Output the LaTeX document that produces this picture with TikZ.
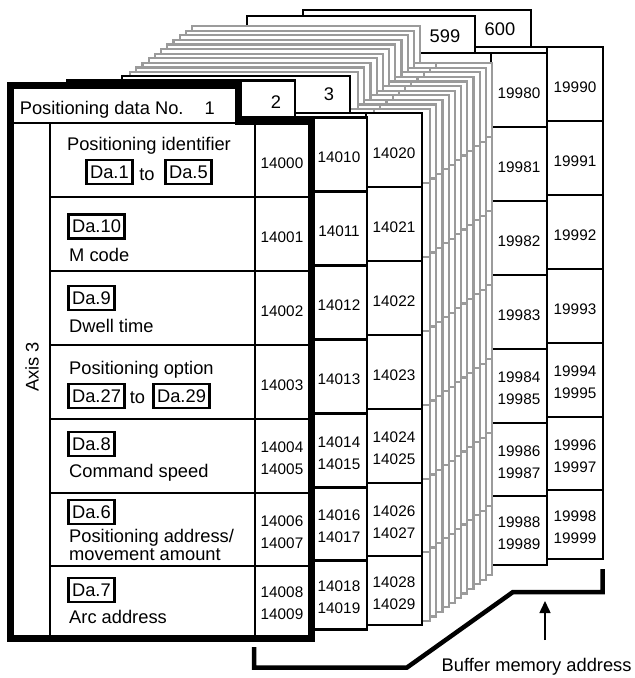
\documentclass[tikz,border=0pt]{standalone}
\usepackage{fontspec}
\setmainfont{Liberation Sans}
\usetikzlibrary{arrows.meta}
\definecolor{pggray}{RGB}{155,155,155}
\newcommand\fmain{\fontsize{18.3}{19}\selectfont}
\newcommand\faddr{\fontsize{15.3}{16}\selectfont}
% one page of the stack: left, top, line style
\newcommand\drawpg[3]{%
  \pgfmathsetmacro\pL{#1}%
  \pgfmathsetmacro\pT{#2}%
  \pgfmathsetmacro\pC{#2+37}%
  \filldraw[fill=white,#3] (\pL,\pT) -- (\pL+228,\pT) -- (\pL+228,\pC) -- (\pL+300,\pC) -- (\pL+300,\pC+512) -- (\pL,\pC+512) -- cycle;
  \draw[#3] (\pL,\pC) -- (\pL+300,\pC);
  \draw[#3] (\pL+244,\pC) -- (\pL+244,\pC+512);
  \foreach \o in {74,148,222,296,370,443} {\draw[#3] (\pL+244,\pC+\o) -- (\pL+300,\pC+\o);}
}
% address numbers of one page: x, column top, first address
\newcommand\addrs[3]{%
  \foreach \i/\c in {0/37,1/111,2/185,3/259} {%
    \edef\nn{\the\numexpr#3+\i\relax}%
    \node[addr] (a\nn) at (#1,#2+\c+8) {\nn};%
  }%
  \foreach \i/\c in {4/333,5/406.5,6/477.5} {%
    \edef\na{\the\numexpr#3+2*\i-4\relax}%
    \edef\nb{\the\numexpr#3+2*\i-3\relax}%
    \node[addr] (a\na) at (#1,#2+\c-3.5) {\na};%
    \node[addr] (a\nb) at (#1,#2+\c+18.5) {\nb};%
  }%
}
\begin{document}
\begin{tikzpicture}[x=1pt,y=-1pt,line join=miter,
  pgline/.style={draw=black,line width=2.5pt},
  grayln/.style={draw=pggray,line width=2.2pt},
  thinln/.style={draw=black,line width=2.6pt},
  txt/.style={font=\fmain,inner sep=0pt},
  addr/.style={font=\faddr,inner sep=0pt,anchor=base},
  dabox/.style={draw,line width=2.6pt,font=\fmain,inner xsep=3.5pt,inner ysep=5.5pt,text height=12.9pt,text depth=0pt,anchor=west}]
\useasboundingbox (0,0) rectangle (635,678);

% page 600
\drawpg{303}{10}{pgline}
\node[txt,anchor=base] (tab600) at (500,35) {600};
\addrs{575}{47}{19990}
% page 599
\drawpg{247}{16}{pgline}
\node[txt,anchor=base] (tab599) at (445,42) {599};
\addrs{519}{53}{19980}
% pages 4 ... 598 (gray stack)
\foreach \k in {10,9,...,0} {\drawpg{130+6.2*\k}{72-4.6*\k}{grayln}}
% page 3
\drawpg{122}{76}{pgline}
\node[txt,anchor=base] (tab3) at (329,100) {3};
\addrs{394}{113}{14020}
% page 2
\drawpg{67}{80.5}{pgline}
\node[txt,anchor=base] (tab2) at (276,108) {2};
\addrs{339}{117.5}{14010}

% page 1 (front, thick frame)
\fill[white] (10.5,85) -- (238.5,85) -- (238.5,121) -- (311.5,121) -- (311.5,638) -- (10.5,638) -- cycle;
\draw[thinln] (14,123) -- (238.5,123);
\draw[thinln] (50,123) -- (50,638);
\draw[thinln] (255,121) -- (255,638);
\foreach \o in {74,148,222,296,370,443} {\draw[thinln] (50,123+\o) -- (311.5,123+\o);}
\draw[line width=7pt] (10.5,85) -- (238.5,85) -- (238.5,121) -- (311.5,121) -- (311.5,638) -- (10.5,638) -- cycle;

\node[txt,anchor=base west] (title) at (19.6,114.5) {Positioning data No.\hspace{21pt}1};
\node[txt,anchor=base,rotate=90] (axis) at (38.5,367) {Axis 3};

% row 1
\node[txt,anchor=base] (r1a) at (149,150) {Positioning identifier};
\node[dabox] (da1) at (85.3,172) {Da.1};
\node[txt,anchor=base] (to1) at (147,180) {to};
\node[dabox] (da5) at (164.3,172) {Da.5};
% row 2
\node[dabox] (da10) at (67.3,226.5) {Da.10};
\node[txt,anchor=base west] (r2) at (69,261) {M code};
% row 3
\node[dabox] (da9) at (67.3,298) {Da.9};
\node[txt,anchor=base west] (r3) at (69,332) {Dwell time};
% row 4
\node[txt,anchor=base west] (r4) at (69,374) {Positioning option};
\node[dabox] (da27) at (67.3,396) {Da.27};
\node[txt,anchor=base] (to2) at (137.5,403) {to};
\node[dabox] (da29) at (152.3,396) {Da.29};
% row 5
\node[dabox] (da8) at (67.3,444) {Da.8};
\node[txt,anchor=base west] (r5) at (69,477) {Command speed};
% row 6
\node[dabox] (da6) at (67.3,512) {Da.6};
\node[txt,anchor=base west] (r6a) at (69,542) {Positioning address/};
\node[txt,anchor=base west] (r6b) at (69,560) {movement amount};
% row 7
\node[dabox] (da7) at (67.3,590) {Da.7};
\node[txt,anchor=base west] (r7) at (69,623) {Arc address};

\addrs{282}{123}{14000}

% bracket and arrow
\coordinate (b1) at (254,647);
\coordinate (b2) at (254,667.5);
\coordinate (b3) at (407,667.5);
\coordinate (b4) at (513,592);
\coordinate (b5) at (602.5,592);
\coordinate (b6) at (602.5,569);
\draw[line width=4.5pt] (b1) -- (b2) -- (b3) -- (b4) -- (b5) -- (b6);
\node[txt,anchor=base west] (buf) at (441.5,671.5) {Buffer memory address};
\coordinate (arS) at (545,640);
\coordinate (arE) at (545,601);
\draw[line width=1.5pt,-{Triangle[width=11pt,length=12pt]}] (arS) -- (arE);
\end{tikzpicture}
\end{document}
